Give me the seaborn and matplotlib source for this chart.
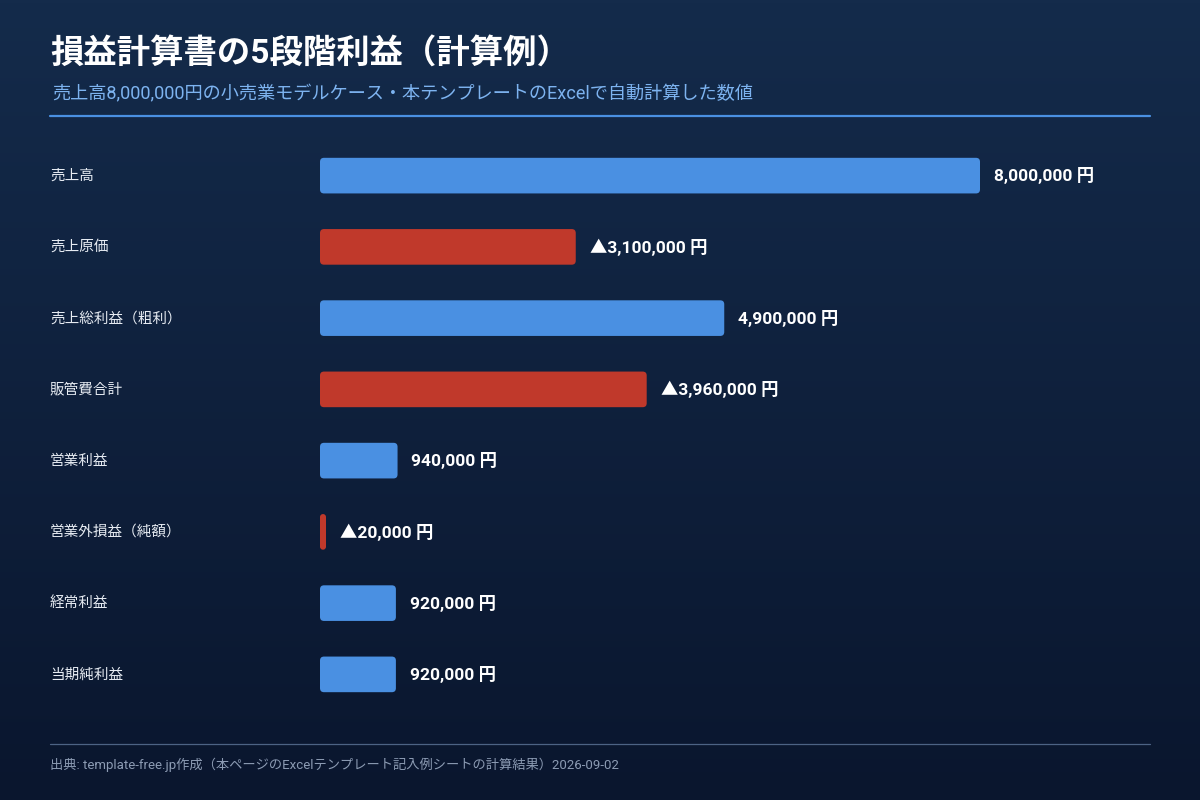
import numpy as np
import pandas as pd
import matplotlib
matplotlib.use('Agg')
import matplotlib.pyplot as plt
from matplotlib.patches import FancyBboxPatch
import seaborn as sns

# データ（計算例）
items = ['売上高', '売上原価', '売上総利益（粗利）', '販管費合計', '営業利益',
         '営業外損益（純額）', '経常利益', '当期純利益']
amounts = [8000000, 3100000, 4900000, 3960000, 940000, 20000, 920000, 920000]
is_minus = [False, True, False, True, False, True, False, False]

title = '損益計算書の5段階利益（計算例）'
subtitle = '売上高8,000,000円の小売業モデルケース・本テンプレートのExcelで自動計算した数値'
source = '出典: template-free.jp作成（本ページのExcelテンプレート記入例シートの計算結果）2026-09-02'

BLUE = '#4a90e2'
RED = '#c0392b'

sns.set_theme(style='white')
plt.rcParams['font.family'] = ['Roboto', 'Noto Sans CJK JP', 'DejaVu Sans']

df = pd.DataFrame({'item': items, 'amount': amounts,
                   'kind': ['minus' if m else 'plus' for m in is_minus]})

W, H = 1200, 800
fig = plt.figure(figsize=(12, 8), dpi=100)

# 背景グラデーション
bg = fig.add_axes([0, 0, 1, 1], zorder=-10)
grad = np.linspace(0, 1, 256).reshape(-1, 1)
top = np.array([0x14, 0x2b, 0x4b]) / 255
bot = np.array([0x0a, 0x16, 0x2e]) / 255
img = top + (bot - top) * grad[:, :, None]
bg.imshow(img, aspect='auto', extent=[0, 1, 0, 1])
bg.axis('off')

# 棒グラフ領域
ax_l, ax_r = 320, 1150
ax_t, ax_b = 140, 710
ax = fig.add_axes([ax_l / W, 1 - ax_b / H, (ax_r - ax_l) / W, (ax_b - ax_t) / H])
ax.set_facecolor('none')

sns.barplot(data=df, y='item', x='amount', hue='kind', orient='h',
            palette={'plus': BLUE, 'minus': RED}, width=0.5, dodge=False,
            saturation=1, legend=False, ax=ax)

xmax = 8000000 * (ax_r - ax_l) / 660
ax.set_xlim(0, xmax)
ax.set_ylim(len(items) - 0.5, -0.5)
ax.axis('off')

xpp = xmax / (ax_r - ax_l)
ypp = len(items) / (ax_b - ax_t)
radius_px = 4

bars = [p for p in ax.patches]
for p in bars:
    x0, y0, w, h = p.get_x(), p.get_y(), p.get_width(), p.get_height()
    if w <= 0:
        continue
    color = p.get_facecolor()
    p.set_visible(False)
    w_draw = max(w, 6 * xpp)
    r = min(radius_px, w_draw / xpp / 2)
    fb = FancyBboxPatch((x0, y0), w_draw, h,
                        boxstyle=f'round,pad=0,rounding_size={r * xpp}',
                        mutation_aspect=ypp / xpp,
                        facecolor=color, edgecolor='none')
    ax.add_patch(fb)
    yc = y0 + h / 2
    idx = int(round(yc))
    txt = ('▲' if is_minus[idx] else '') + f'{amounts[idx]:,} 円'
    ax.annotate(txt, xy=(x0 + w_draw, yc), xytext=(10, 0),
                textcoords='offset points', va='center', ha='left',
                color='white', fontsize=12.5, fontweight='bold')

# 左側ラベル
for i, name in enumerate(items):
    yc_px = ax_t + (i + 0.5) * (ax_b - ax_t) / len(items)
    fig.text(50 / W, 1 - yc_px / H, name, color='#e6ebf2', fontsize=10.5,
             va='center', ha='left')

# タイトル・サブタイトル
fig.text(50 / W, 1 - 54 / H, title, color='white', fontsize=24,
         fontweight='bold', va='center', ha='left')
fig.text(52 / W, 1 - 94 / H, subtitle, color='#7db3f0', fontsize=13.1,
         va='center', ha='left')
fig.add_artist(plt.Line2D([50 / W, 1150 / W], [1 - 116 / H, 1 - 116 / H],
                          color=BLUE, linewidth=1.6))

# 出典
fig.add_artist(plt.Line2D([50 / W, 1150 / W], [1 - 744 / H, 1 - 744 / H],
                          color='#4d6384', linewidth=0.9))
fig.text(50 / W, 1 - 765 / H, source, color='#8c9bb3', fontsize=9.55,
         va='center', ha='left')

fig.savefig('out.png', dpi=100)
